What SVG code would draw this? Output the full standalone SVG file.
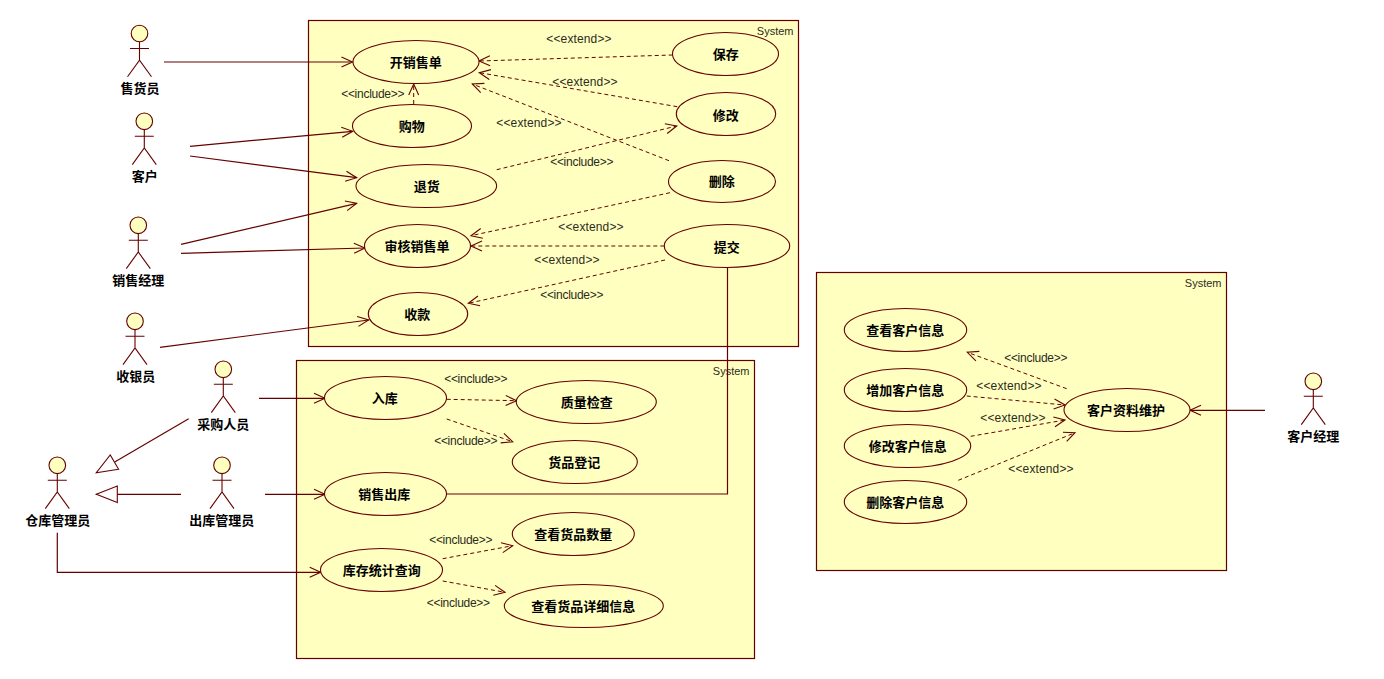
<svg xmlns="http://www.w3.org/2000/svg" width="1384" height="679" viewBox="0 0 1384 679">
<style>
.bg{fill:#fff}
.sys{fill:#ffffc0;stroke:#660000;stroke-width:1.2}
.uc{fill:#ffffc0;stroke:#660000;stroke-width:1.1}
.s,.d{fill:none;stroke:#660000;stroke-width:1.2}
.s{marker-end:url(#open)}
.d{stroke-width:1;stroke-dasharray:4 3;marker-end:url(#open)}
.g{marker-end:url(#tri)}
.p{marker-end:none}
.a{fill:none;stroke:#660000;stroke-width:1.1}
.h{fill:#ffffc0;stroke:#660000;stroke-width:1.1}
text{font-family:"Noto Sans CJK SC","Liberation Sans",sans-serif;text-anchor:middle;dominant-baseline:central}
.n{font-size:13px;font-weight:700;fill:#000;transform:translateY(-1.5px)}
.l{font-family:"Liberation Sans","Noto Sans CJK SC",sans-serif;font-size:12px;fill:#2b2b1e}
.e{letter-spacing:.13px}
.i{letter-spacing:-.27px}
.t{font-family:"Liberation Sans",sans-serif;font-size:11px;fill:#2b2b1e;text-anchor:end}
</style>
<defs>
<marker id="open" markerUnits="userSpaceOnUse" markerWidth="16" markerHeight="14" refX="13" refY="7" orient="auto" overflow="visible"><path d="M2,2 L13,7 L2,12" fill="none" stroke="#660000" stroke-width="1.1"/></marker>
<marker id="tri" markerUnits="userSpaceOnUse" markerWidth="24" markerHeight="20" refX="22" refY="10" orient="auto" overflow="visible"><path d="M1,1.7 L22,10 L1,18.3 Z" fill="#fff" stroke="#660000" stroke-width="1.1"/></marker>
<g id="actor"><circle class="h" r="8.3"/><path class="a" d="M0,8.3 V26.7 M-9.5,15 H9.5 M-12,43.3 L0,26.7 L12,43.3"/></g>
</defs>
<rect class="bg" width="1384" height="679"/>
<g id="system-sales"><rect class="sys" x="308.5" y="20.5" width="490" height="326"/><text class="t" x="793.5" y="31">System</text></g>
<g id="system-warehouse"><rect class="sys" x="296.5" y="360.5" width="458" height="298"/><text class="t" x="749.5" y="371">System</text></g>
<g id="system-customer"><rect class="sys" x="816.5" y="272.5" width="410" height="298"/><text class="t" x="1221.5" y="283">System</text></g>
<g id="connectors">
<path class="s" d="M164,62 H352.5"/>
<path class="s" d="M190,146.3 L352.7,131.3"/>
<path class="s" d="M190,156 L356.7,177.7"/>
<path class="s" d="M181,244.3 L356.7,203.3"/>
<path class="s" d="M181,253.3 L365,248"/>
<path class="s" d="M160,347.3 L368.7,320"/>
<path class="s" d="M259,398.3 H325"/>
<path class="s" d="M265,494.3 H325"/>
<path class="s" d="M57.3,532.7 V572.3 H320.7"/>
<path class="s" d="M1265,410.3 H1190"/>
<path class="s p" d="M727.5,267.3 V494 H446.3"/>
<path class="s g" d="M188.7,418.7 L96.3,472.7"/>
<path class="s g" d="M181,494.3 H96.3"/>
<path class="d" d="M413.7,104 L413.7,84"/>
<path class="d" d="M672.7,55 L479,61"/>
<path class="d" d="M677.3,106.7 L479.3,72.7"/>
<path class="d" d="M669,160.7 L472.3,84"/>
<path class="d" d="M496.7,169.7 L676.7,126"/>
<path class="d" d="M670,192.7 L471,235.7"/>
<path class="d" d="M664.3,246 H471"/>
<path class="d" d="M665,260 L468.3,303.3"/>
<path class="d" d="M446.7,399.3 L516.7,400.7"/>
<path class="d" d="M446.7,419 L512.7,441.7"/>
<path class="d" d="M442.7,558.7 L512.7,545.7"/>
<path class="d" d="M442.7,581 L505,592.3"/>
<path class="d" d="M1066.7,388.7 L967.3,352.3"/>
<path class="d" d="M966.7,396 L1065,405"/>
<path class="d" d="M970.7,436.3 L1065,420"/>
<path class="d" d="M958.3,480.3 L1075,432.7"/>
<text class="l i" x="372.7" y="94">&lt;&lt;include&gt;&gt;</text>
<text class="l e" x="579" y="39.3">&lt;&lt;extend&gt;&gt;</text>
<text class="l e" x="585" y="82.3">&lt;&lt;extend&gt;&gt;</text>
<text class="l e" x="529" y="123.3">&lt;&lt;extend&gt;&gt;</text>
<text class="l i" x="581.7" y="162.3">&lt;&lt;include&gt;&gt;</text>
<text class="l e" x="591" y="227.3">&lt;&lt;extend&gt;&gt;</text>
<text class="l e" x="567" y="260">&lt;&lt;extend&gt;&gt;</text>
<text class="l i" x="571.7" y="295.3">&lt;&lt;include&gt;&gt;</text>
<text class="l i" x="475.7" y="379">&lt;&lt;include&gt;&gt;</text>
<text class="l i" x="465.7" y="441">&lt;&lt;include&gt;&gt;</text>
<text class="l i" x="460.7" y="540">&lt;&lt;include&gt;&gt;</text>
<text class="l i" x="458.3" y="603">&lt;&lt;include&gt;&gt;</text>
<text class="l i" x="1035.7" y="358">&lt;&lt;include&gt;&gt;</text>
<text class="l e" x="1009" y="386.3">&lt;&lt;extend&gt;&gt;</text>
<text class="l e" x="1013" y="418">&lt;&lt;extend&gt;&gt;</text>
<text class="l e" x="1041" y="469.3">&lt;&lt;extend&gt;&gt;</text>
</g>
<g id="uc-kaixiaoshoudan"><ellipse class="uc" cx="416" cy="62" rx="63" ry="21.5"/><text class="n" x="415.7" y="62.7">开销售单</text></g>
<g id="uc-gouwu"><ellipse class="uc" cx="412" cy="126" rx="59.5" ry="21.5"/><text class="n" x="411.7" y="127.3">购物</text></g>
<g id="uc-tuihuo"><ellipse class="uc" cx="426.3" cy="186" rx="70.3" ry="21.5"/><text class="n" x="426.7" y="187">退货</text></g>
<g id="uc-shenhe"><ellipse class="uc" cx="417.5" cy="246" rx="53" ry="21.5"/><text class="n" x="417" y="247.3">审核销售单</text></g>
<g id="uc-shoukuan"><ellipse class="uc" cx="418" cy="314" rx="49.7" ry="21.5"/><text class="n" x="417.3" y="315">收款</text></g>
<g id="uc-baocun"><ellipse class="uc" cx="725.5" cy="54" rx="53" ry="21.5"/><text class="n" x="725.7" y="55">保存</text></g>
<g id="uc-xiugai"><ellipse class="uc" cx="726" cy="114" rx="49.7" ry="21.5"/><text class="n" x="725.7" y="115.7">修改</text></g>
<g id="uc-shanchu"><ellipse class="uc" cx="722" cy="181.5" rx="53.5" ry="21"/><text class="n" x="721.7" y="182">删除</text></g>
<g id="uc-tijiao"><ellipse class="uc" cx="727" cy="246" rx="62.7" ry="21.5"/><text class="n" x="726.7" y="247.7">提交</text></g>
<g id="uc-ruku"><ellipse class="uc" cx="385.5" cy="398" rx="61" ry="21.5"/><text class="n" x="384.7" y="399">入库</text></g>
<g id="uc-zhiliang"><ellipse class="uc" cx="586.3" cy="402" rx="70" ry="21.5"/><text class="n" x="586.7" y="403">质量检查</text></g>
<g id="uc-dengji"><ellipse class="uc" cx="574.8" cy="462" rx="62.5" ry="21.5"/><text class="n" x="574.3" y="462.7">货品登记</text></g>
<g id="uc-chuku"><ellipse class="uc" cx="385.5" cy="494" rx="61" ry="21.5"/><text class="n" x="384.3" y="495">销售出库</text></g>
<g id="uc-shuliang"><ellipse class="uc" cx="573.3" cy="534" rx="61" ry="21.5"/><text class="n" x="573.3" y="535">查看货品数量</text></g>
<g id="uc-kucun"><ellipse class="uc" cx="381.5" cy="570" rx="61" ry="21.5"/><text class="n" x="381.7" y="571">库存统计查询</text></g>
<g id="uc-xiangxi"><ellipse class="uc" cx="583.8" cy="606" rx="79.5" ry="21.5"/><text class="n" x="583.3" y="607">查看货品详细信息</text></g>
<g id="uc-kh-chakan"><ellipse class="uc" cx="905.5" cy="330" rx="61.2" ry="21.5"/><text class="n" x="905.3" y="331">查看客户信息</text></g>
<g id="uc-kh-zengjia"><ellipse class="uc" cx="905.5" cy="390" rx="61.2" ry="21.5"/><text class="n" x="905.3" y="391">增加客户信息</text></g>
<g id="uc-kh-xiugai"><ellipse class="uc" cx="907.5" cy="446" rx="63.2" ry="21.5"/><text class="n" x="907.7" y="447">修改客户信息</text></g>
<g id="uc-kh-shanchu"><ellipse class="uc" cx="905.5" cy="502" rx="61.2" ry="21.5"/><text class="n" x="905.3" y="503">删除客户信息</text></g>
<g id="uc-kh-weihu"><ellipse class="uc" cx="1127" cy="410" rx="63" ry="21.5"/><text class="n" x="1126" y="411">客户资料维护</text></g>
<g id="actor-shouhuoyuan"><use href="#actor" x="139.5" y="33.5"/><text class="n" x="140" y="89.3">售货员</text></g>
<g id="actor-kehu"><use href="#actor" x="144.3" y="121.3"/><text class="n" x="144.7" y="177.3">客户</text></g>
<g id="actor-xiaoshoujingli"><use href="#actor" x="138.3" y="225.3"/><text class="n" x="138.3" y="281">销售经理</text></g>
<g id="actor-shouyinyuan"><use href="#actor" x="135" y="321.3"/><text class="n" x="135.7" y="377.3">收银员</text></g>
<g id="actor-caigou"><use href="#actor" x="223.3" y="369.3"/><text class="n" x="223.3" y="425.3">采购人员</text></g>
<g id="actor-cangku"><use href="#actor" x="57.3" y="465.3"/><text class="n" x="57.7" y="521.3">仓库管理员</text></g>
<g id="actor-chuku"><use href="#actor" x="222" y="465.3"/><text class="n" x="221.7" y="521.3">出库管理员</text></g>
<g id="actor-kehujingli"><use href="#actor" x="1313.3" y="381.3"/><text class="n" x="1313.3" y="437.3">客户经理</text></g>
</svg>
